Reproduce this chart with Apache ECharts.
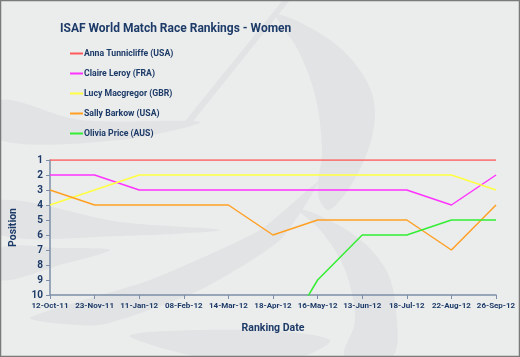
<!DOCTYPE html>
<html><head><meta charset="utf-8">
<script src="https://cdn.jsdelivr.net/npm/echarts@6/dist/echarts.min.js"></script>
<style>html,body{margin:0;padding:0;background:#ebecec}#c{width:520px;height:357px}</style>
</head><body><div id="c"></div>
<script>
var dates = ['12-Oct-11','23-Nov-11','11-Jan-12','08-Feb-12','14-Mar-12','18-Apr-12','16-May-12','13-Jun-12','18-Jul-12','22-Aug-12','26-Sep-12'];
var anna   = [1,1,1,1,1,1,1,1,1,1,1];
var claire = [2,2,3,3,3,3,3,3,3,4,2];
var lucy   = [4,3,2,2,2,2,2,2,2,2,3];
var sally  = [3,4,4,4,4,6,5,5,5,7,4];
var olivia = [null,null,null,null,null,14,9,6,6,5,5];
var names = ['Anna Tunnicliffe (USA)','Claire Leroy (FRA)','Lucy Macgregor (GBR)','Sally Barkow (USA)','Olivia Price (AUS)'];
var colors = ['#ff5a5a','#ff33ff','#ffff40','#ffa023','#33ee33'];
var yTicks = [1,2,3,4,5,6,7,8,9,10];

var txt = '#1d3b68';
var font = 'Roboto';
var shade = '#e2e3e5';
var chart = echarts.init(document.getElementById('c'));
var seriesData = [anna, claire, lucy, sally, olivia];
chart.setOption({
  backgroundColor: '#ebecec',
  animation: false,
  graphic: [
    {type:'polygon', z:-10, shape:{smooth:0.35, points:[[277,15],[330,40],[365,78],[375,115],[362,165],[330,210],[318,195],[322,150],[315,95],[298,50]]}, style:{fill:shade}},
    {type:'polygon', z:-10, shape:{smooth:0.35, points:[[297,208],[350,232],[385,268],[396,310],[392,357],[345,357],[355,320],[345,270],[322,232]]}, style:{fill:shade}},
    {type:'polygon', z:-10, shape:{points:[[283,0],[290,0],[190,125],[182,125]]}, style:{fill:shade}},
    {type:'polygon', z:-10, shape:{smooth:0.3, points:[[0,100],[80,120],[200,122],[120,140],[0,140]]}, style:{fill:shade}},
    {type:'polygon', z:-10, shape:{smooth:0.2, points:[[30,318],[150,280],[260,230],[318,182],[280,240],[200,290],[100,325]]}, style:{fill:shade}},
    {type:'polygon', z:-10, shape:{smooth:0.3, points:[[0,200],[120,222],[220,230],[120,236],[0,235]]}, style:{fill:shade}},
    {type:'polygon', z:-10, shape:{smooth:0.3, points:[[0,248],[60,248],[110,250],[60,265],[0,280]]}, style:{fill:shade}},
    {type:'polygon', z:-10, shape:{smooth:0.3, points:[[130,335],[260,330],[330,340],[300,357],[200,357]]}, style:{fill:shade}},
    {type:'rect', z:100, shape:{x:0.5,y:0.5,width:519,height:356}, style:{fill:'none',stroke:'#7a7a7a',lineWidth:1.5}}
  ],
  title: {
    text: 'ISAF World Match Race Rankings - Women',
    left: 55, top: 18,
    textStyle: {fontFamily: font, fontSize: 12, fontWeight: 'bold', color: txt}
  },
  legend: {
    orient: 'vertical', left: 65, top: 44,
    icon: 'rect', itemWidth: 13, itemHeight: 2, itemGap: 11,
    textStyle: {fontFamily: font, fontSize: 8.7, fontWeight: 'bold', color: txt, padding: [0,0,0,-4]},
    data: names
  },
  grid: {left: 44, right: 24, top: 160, bottom: 62, containLabel: false},
  xAxis: {
    type: 'category', data: dates, boundaryGap: false,
    name: 'Ranking Date', nameLocation: 'middle', nameGap: 28,
    nameTextStyle: {fontFamily: font, fontSize: 10.5, fontWeight: 'bold', color: txt},
    axisLine: {lineStyle: {color: '#7d8fa8', width: 1.5}},
    axisTick: {show: true, alignWithLabel: true, length: 4, lineStyle: {color: '#7d8fa8'}},
    axisLabel: {fontFamily: font, fontSize: 8, fontWeight: 'bold', color: txt, margin: 7, interval: 0},
    splitLine: {show: false}
  },
  yAxis: {
    type: 'value', inverse: true, min: 1, max: 10, interval: 1,
    name: 'Position', nameLocation: 'middle', nameGap: 31, nameRotate: 90,
    nameTextStyle: {fontFamily: font, fontSize: 10.5, fontWeight: 'bold', color: txt},
    axisLine: {show: true, lineStyle: {color: '#7d8fa8', width: 1.5}},
    axisTick: {show: true, length: 4, lineStyle: {color: '#7d8fa8'}},
    axisLabel: {fontFamily: font, fontSize: 10, fontWeight: 'bold', color: txt, margin: 7,
      formatter: function(v){ return yTicks.indexOf(v) >= 0 ? String(v) : ''; }},
    splitLine: {show: false}
  },
  series: names.map(function(n, i){
    return {
      name: n, type: 'line', data: seriesData[i], showSymbol: false, symbol: 'none',
      clip: true, connectNulls: false,
      itemStyle: {color: colors[i]},
      lineStyle: {color: colors[i], width: 1.5}
    };
  })
});
</script></body></html>
